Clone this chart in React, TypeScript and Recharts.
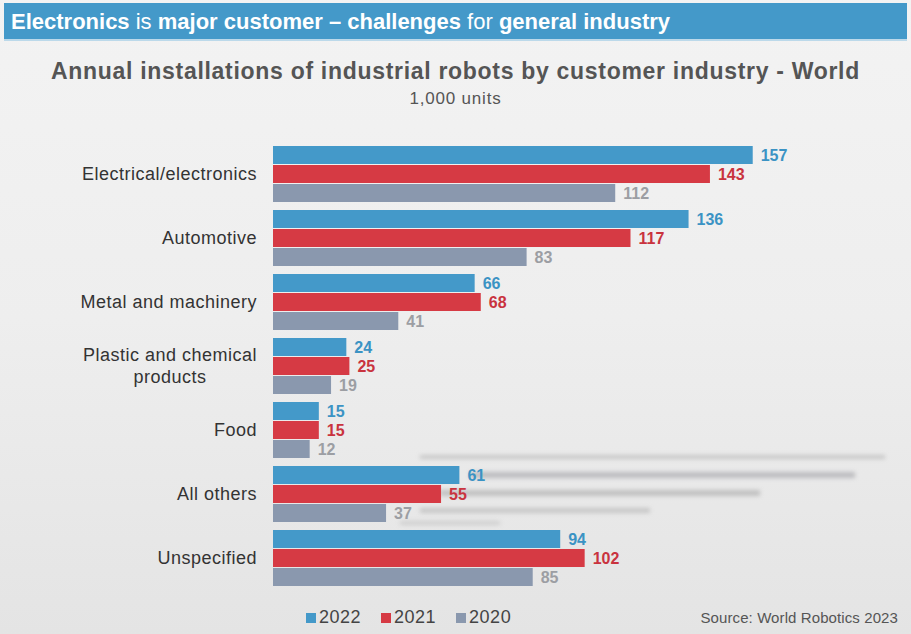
import React from 'react';
import { BarChart, Bar, XAxis, YAxis, LabelList } from 'recharts';

const categories = [
  'Electrical/electronics',
  'Automotive',
  'Metal and machinery',
  'Plastic and chemical products',
  'Food',
  'All others',
  'Unspecified',
];
const values2022 = [157, 136, 66, 24, 15, 61, 94];
const values2021 = [143, 117, 68, 25, 15, 55, 102];
const values2020 = [112, 83, 41, 19, 12, 37, 85];

const seriesNames = ['2022', '2021', '2020'];
const barColors = ['#4499c9', '#d63a44', '#8a98ae'];
const labelColors = ['#3b93c4', '#c9333e', '#9c9ea3'];

const tickLines: Record<string, string[]> = {
  'Plastic and chemical products': ['Plastic and chemical', 'products'],
};

const data = categories.map((name, i) => ({
  name,
  y2022: values2022[i],
  y2021: values2021[i],
  y2020: values2020[i],
}));

const font = '"Liberation Sans", Arial, sans-serif';

// faint blurred streaks in the slide background
const streaks = [
  { x: 420, y: 455, w: 465, h: 4, c: '#b8b8b8' },
  { x: 470, y: 472, w: 385, h: 6, c: '#a9a9ae' },
  { x: 440, y: 490, w: 320, h: 6, c: '#b0b0b0' },
  { x: 420, y: 508, w: 230, h: 5, c: '#b8b8b8' },
  { x: 400, y: 521, w: 100, h: 4, c: '#c4c4c4' },
];

const CategoryTick = (props: any) => {
  const { x, y, payload } = props;
  const lines = tickLines[payload.value] || [payload.value];
  if (lines.length === 1) {
    return (
      <text x={x - 8} y={y} dy={6} textAnchor="end" fontSize={18} letterSpacing={0.5} fill="#333" fontFamily={font}>
        {payload.value}
      </text>
    );
  }
  // two lines, centred on the longest one
  const cx = x - 8 - 87;
  return (
    <text textAnchor="middle" fontSize={18} letterSpacing={0.5} fill="#333" fontFamily={font}>
      {lines.map((l, i) => (
        <tspan key={i} x={cx} y={y + (i - 0.5) * 22 + 6}>
          {l}
        </tspan>
      ))}
    </text>
  );
};

export default function App() {
  const keys = ['y2022', 'y2021', 'y2020'];
  return (
    <div
      style={{
        position: 'absolute',
        left: 0,
        top: 0,
        width: 911,
        height: 634,
        overflow: 'hidden',
        background: 'linear-gradient(180deg, #f3f3f3 0%, #eeeeee 50%, #e4e4e4 100%)',
        fontFamily: font,
      }}
    >
      <div
        style={{
          position: 'absolute',
          left: 4,
          top: 3,
          width: 903,
          height: 38,
          background: '#4499c9',
          borderBottom: '2px solid #bcd9ea',
          color: '#fff',
          fontSize: 22,
          lineHeight: '38px',
          paddingLeft: 7,
          boxSizing: 'border-box',
          whiteSpace: 'nowrap',
        }}
      >
        <b>Electronics</b> is <b>major customer – challenges</b> for <b>general industry</b>
      </div>
      <div
        style={{
          position: 'absolute',
          left: 0,
          top: 58,
          width: 911,
          textAlign: 'center',
          fontSize: 23,
          letterSpacing: 0.7,
          fontWeight: 'bold',
          color: '#555',
          whiteSpace: 'nowrap',
        }}
      >
        Annual installations of industrial robots by customer industry - World
      </div>
      <div
        style={{
          position: 'absolute',
          left: 0,
          top: 89,
          width: 911,
          textAlign: 'center',
          fontSize: 17,
          letterSpacing: 0.8,
          color: '#555',
        }}
      >
        1,000 units
      </div>

      {streaks.map((s, i) => (
        <div
          key={i}
          style={{
            position: 'absolute',
            left: s.x,
            top: s.y,
            width: s.w,
            height: s.h,
            background: s.c,
            filter: 'blur(2px)',
            opacity: 0.7,
          }}
        />
      ))}

      <div style={{ position: 'absolute', left: 0, top: 0 }}>
        <BarChart
          width={911}
          height={634}
          data={data}
          layout="vertical"
          margin={{ top: 142, right: 88, left: 0, bottom: 44 }}
          barCategoryGap={4}
          barGap={1}
        >
          <XAxis type="number" domain={[0, 180]} hide />
          <YAxis
            type="category"
            dataKey="name"
            width={273}
            axisLine={false}
            tickLine={false}
            tick={<CategoryTick />}
            interval={0}
          />
          {keys.map((k, i) => (
            <Bar key={k} dataKey={k} name={seriesNames[i]} fill={barColors[i]} isAnimationActive={false}>
              <LabelList
                dataKey={k}
                position="right"
                offset={8}
                fill={labelColors[i]}
                fontSize={16}
                fontWeight="bold"
                fontFamily={font}
              />
            </Bar>
          ))}
        </BarChart>
      </div>

      <div
        style={{
          position: 'absolute',
          left: 306,
          top: 607,
          display: 'flex',
          gap: 20,
          fontSize: 18,
          letterSpacing: 0.5,
          color: '#444',
        }}
      >
        {seriesNames.map((s, i) => (
          <div key={s} style={{ display: 'flex', alignItems: 'center' }}>
            <span style={{ width: 10, height: 10, background: barColors[i], marginRight: 3, display: 'inline-block' }} />
            {s}
          </div>
        ))}
      </div>
      <div
        style={{
          position: 'absolute',
          right: 13,
          top: 609,
          fontSize: 15,
          letterSpacing: 0.1,
          color: '#555',
        }}
      >
        Source: World Robotics 2023
      </div>
    </div>
  );
}
